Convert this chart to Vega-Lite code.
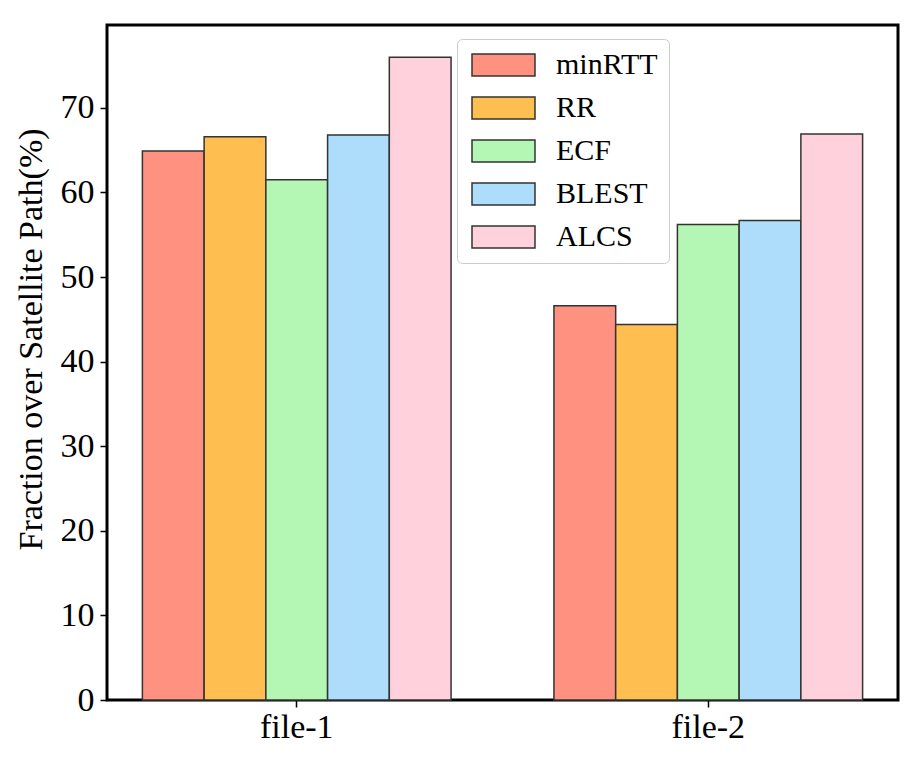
{
  "$schema": "https://vega.github.io/schema/vega-lite/v6.json",
  "width": 791,
  "height": 675,
  "autosize": {"type": "none"},
  "padding": {"left": 107, "top": 25, "right": 14, "bottom": 60},
  "background": "white",
  "config": {
    "font": "Liberation Serif, Times New Roman, serif",
    "view": {"stroke": "black", "strokeWidth": 3},
    "text": {"font": "Liberation Serif, Times New Roman, serif"},
    "legend": {"labelFont": "Liberation Serif, Times New Roman, serif"},
    "axis": {"labelColor": "black", "titleColor": "black", "tickColor": "black", "tickWidth": 1.5, "tickSize": 7, "domain": false, "grid": false, "labelFont": "Liberation Serif, Times New Roman, serif", "titleFont": "Liberation Serif, Times New Roman, serif"}
  },
  "data": {
    "values": [
      {"file": "file-1", "method": "minRTT", "value": 64.9},
      {"file": "file-1", "method": "RR", "value": 66.6},
      {"file": "file-1", "method": "ECF", "value": 61.5},
      {"file": "file-1", "method": "BLEST", "value": 66.8},
      {"file": "file-1", "method": "ALCS", "value": 76.0},
      {"file": "file-2", "method": "minRTT", "value": 46.6},
      {"file": "file-2", "method": "RR", "value": 44.4},
      {"file": "file-2", "method": "ECF", "value": 56.2},
      {"file": "file-2", "method": "BLEST", "value": 56.7},
      {"file": "file-2", "method": "ALCS", "value": 66.9}
    ]
  },
  "mark": {"type": "bar", "stroke": "#333333", "strokeWidth": 1.5},
  "encoding": {
    "x": {
      "field": "file",
      "type": "nominal",
      "scale": {"paddingInner": 0.25, "paddingOuter": 0.086},
      "axis": {"title": null, "labelAngle": 0, "labelFontSize": 34, "labelPadding": 3}
    },
    "xOffset": {
      "field": "method",
      "type": "nominal",
      "sort": ["minRTT", "RR", "ECF", "BLEST", "ALCS"],
      "scale": {"paddingInner": 0, "paddingOuter": 0}
    },
    "y": {
      "field": "value",
      "type": "quantitative",
      "scale": {"domain": [0, 79.8], "nice": false, "zero": true},
      "axis": {
        "title": "Fraction over Satellite Path(%)",
        "values": [0, 10, 20, 30, 40, 50, 60, 70],
        "labelFontSize": 34,
        "labelPadding": 6,
        "titleFontSize": 34,
        "titleFontWeight": "normal",
        "titleX": -59,
        "titleY": 314
      }
    },
    "color": {
      "field": "method",
      "type": "nominal",
      "scale": {
        "domain": ["minRTT", "RR", "ECF", "BLEST", "ALCS"],
        "range": ["#FF9180", "#FFBF50", "#B4F7B4", "#ADDDFA", "#FFD1DC"]
      },
      "legend": {
        "title": null,
        "orient": "none",
        "legendX": 350,
        "legendY": 14,
        "labelFontSize": 30,
        "labelColor": "black",
        "symbolType": "M-1,-1H4.727V1H-1Z",
        "symbolSize": 484,
        "symbolStrokeColor": "#333333",
        "symbolStrokeWidth": 1.5,
        "symbolOpacity": 1,
        "labelOffset": 58,
        "rowPadding": 13,
        "padding": 11,
        "fillColor": "rgba(255,255,255,0.8)",
        "strokeColor": "#cccccc",
        "cornerRadius": 5
      }
    }
  }
}
